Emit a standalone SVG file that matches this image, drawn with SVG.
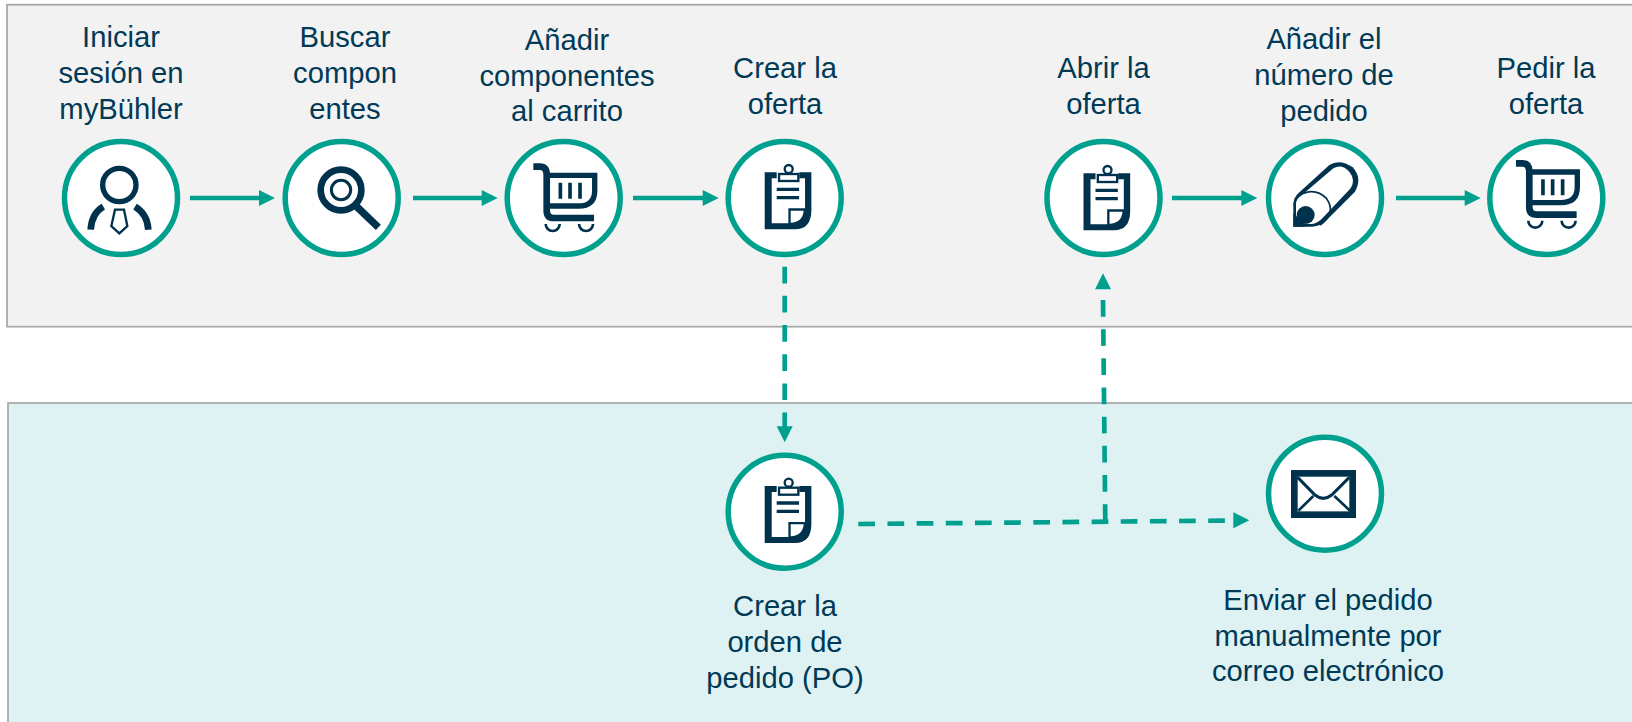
<svg xmlns="http://www.w3.org/2000/svg" width="1632" height="722" viewBox="0 0 1632 722">
<style>
.panel{stroke:#a6a6a6;stroke-width:1.7}
.ring{fill:#fff;stroke:#00a08f;stroke-width:5.5}
.flow{fill:none;stroke:#00a08f;stroke-width:4.7}
.dash{fill:none;stroke:#00a08f;stroke-width:4.7;stroke-dasharray:16.7 12.47}
.head{fill:#00a08f}
.ink{fill:#00324e}
.line{fill:none;stroke:#00324e}
text{font-family:"Liberation Sans",Arial,sans-serif;font-size:29.2px;fill:#003a57;text-anchor:middle}
</style>
<defs>
<g id="i-person" transform="scale(.3333) translate(-243 -234)">
<circle cx="238" cy="195" r="50" fill="#fff" stroke="#00324e" stroke-width="16"/>
<path class="line" stroke-width="20" d="M190 260Q155 280 152 329"/>
<path class="line" stroke-width="20" d="M285 260Q322 282 325 329"/>
<path d="M225 269H252L262 318L238 340L214 318Z" fill="#fff" stroke="#00324e" stroke-width="7"/>
</g>
<g id="i-lens" transform="scale(.3333) translate(-905 -234)">
<circle cx="903" cy="210" r="61" fill="#fff" stroke="#00324e" stroke-width="20"/>
<circle cx="903" cy="210" r="29" fill="#fff" stroke="#00324e" stroke-width="9"/>
<path class="line" stroke-width="22" d="M945 255L1015 322"/>
</g>
<g id="i-cart" transform="scale(.3333) translate(-251 -234)">
<path class="line" stroke-width="20" d="M160 140H180Q200 140 200 165V272Q200 294 222 294H342"/>
<path class="line" stroke-width="16" d="M200 166H344V212Q344 258 295 258H200"/>
<path class="line" stroke-width="11" d="M241 188V236M270 188V236M300 188V236"/>
<path class="line" stroke-width="8" d="M197 312A21 21 0 0 0 239 312M297 312A21 21 0 0 0 339 312"/>
</g>
<g id="i-clip" transform="scale(.3333) translate(-914 -234)">
<path class="ink" d="M854 157H890V175H875V310H925V265H975V175H958V157H994V270Q994 328 945 328H854Z"/>
<path fill="#fff" d="M932 272H971Q968 306 932 308Z"/>
<circle cx="926" cy="147" r="12" fill="#fff" stroke="#00324e" stroke-width="7"/>
<rect x="897" y="162" width="58" height="21" fill="#fff" stroke="#00324e" stroke-width="7"/>
<path class="line" stroke-width="10" d="M890 208H957M890 233H957"/>
</g>
<g id="i-pencil" transform="scale(.3333) translate(-255 -234)">
<path class="ink" d="M160 320V250Q162 232 175 220L268 135Q300 115 338 142Q368 175 345 215L258 302Q238 320 215 320Z"/>
<path fill="#fff" d="M168 312V250Q170 235 185 226L280 145Q305 130 328 155Q348 180 332 205L250 292Q232 312 215 312Z"/>
<path class="line" stroke-width="5" d="M178 226Q225 200 260 236Q290 280 240 315"/>
<circle class="ink" cx="197" cy="285" r="27"/>
<path class="ink" d="M160 320V280L195 312V320Z"/>
</g>
<g id="i-mail" transform="scale(.3333) translate(-675 -221)">
<rect x="583" y="160" width="175" height="124" fill="#fff" stroke="#00324e" stroke-width="20"/>
<path class="line" stroke-width="9" d="M593 172L645 225Q670 245 695 225L748 172"/>
<path class="line" stroke-width="8" d="M595 272L640 228M750 272L703 228"/>
</g>
<path id="tip" class="head" d="M-16 -8L0 0L-16 8Z"/>
</defs>
<rect class="panel" x="7" y="4.700" width="1630" height="322" fill="#f2f2f2"/>
<rect class="panel" x="8" y="403" width="1630" height="325" fill="#def2f4"/>
<g id="connectors">
<path class="flow" d="M190 198H262M413 198H485M633 198H705M1172 198H1244M1396 198H1468"/>
<use href="#tip" x="275" y="198"/><use href="#tip" x="497.700" y="198"/><use href="#tip" x="718.700" y="198"/><use href="#tip" x="1257.300" y="198"/><use href="#tip" x="1480.700" y="198"/>
<path class="dash" d="M784.700 266.700V428"/>
<use href="#tip" transform="translate(784.700 442.300) rotate(90)"/>
<path class="dash" d="M858.300 524L1108.300 521.700"/>
<path class="dash" d="M1103 300L1105.300 521.700"/>
<use href="#tip" transform="translate(1103 273.300) rotate(-90)"/>
<path class="dash" d="M1120.700 521.500L1225 520.600"/>
<use href="#tip" x="1249.300" y="520.300"/>
</g>
<g id="n1"><circle class="ring" cx="121" cy="198" r="56.500"/><use href="#i-person" x="121" y="198"/><text><tspan x="121" y="47">Iniciar</tspan><tspan x="121" y="82.500">sesión en</tspan><tspan x="121" y="118.500">myBühler</tspan></text></g>
<g id="n2"><circle class="ring" cx="341.700" cy="198" r="56.500"/><use href="#i-lens" x="341.700" y="198"/><text><tspan x="345" y="47">Buscar</tspan><tspan x="345" y="82.500">compon</tspan><tspan x="345" y="118.500">entes</tspan></text></g>
<g id="n3"><circle class="ring" cx="563.700" cy="198" r="56.500"/><use href="#i-cart" x="563.700" y="198"/><text><tspan x="567" y="49.500">Añadir</tspan><tspan x="567" y="85.500">componentes</tspan><tspan x="567" y="121">al carrito</tspan></text></g>
<g id="n4"><circle class="ring" cx="784.700" cy="198" r="56.500"/><use href="#i-clip" x="784.700" y="198"/><text><tspan x="785" y="78">Crear la</tspan><tspan x="785" y="114">oferta</tspan></text></g>
<g id="n5"><circle class="ring" cx="1103.500" cy="198" r="56.500"/><use href="#i-clip" x="1103.500" y="199"/><text><tspan x="1103.500" y="78">Abrir la</tspan><tspan x="1103.500" y="114">oferta</tspan></text></g>
<g id="n6"><circle class="ring" cx="1325" cy="198" r="56.500"/><use href="#i-pencil" x="1325" y="198"/><text><tspan x="1324" y="49">Añadir el</tspan><tspan x="1324" y="85">número de</tspan><tspan x="1324" y="120.500">pedido</tspan></text></g>
<g id="n7"><circle class="ring" cx="1546.300" cy="198" r="56.500"/><use href="#i-cart" x="1546.300" y="194.700"/><text><tspan x="1546" y="78">Pedir la</tspan><tspan x="1546" y="114">oferta</tspan></text></g>
<g id="n8"><circle class="ring" cx="784.700" cy="511.700" r="56.500"/><use href="#i-clip" x="784.700" y="511.700"/><text><tspan x="785" y="616">Crear la</tspan><tspan x="785" y="652">orden de</tspan><tspan x="785" y="688">pedido (PO)</tspan></text></g>
<g id="n9"><circle class="ring" cx="1325" cy="493.700" r="56.500"/><use href="#i-mail" x="1325" y="493.700"/><text><tspan x="1328" y="610">Enviar el pedido</tspan><tspan x="1328" y="646">manualmente por</tspan><tspan x="1328" y="681">correo electrónico</tspan></text></g>
</svg>
